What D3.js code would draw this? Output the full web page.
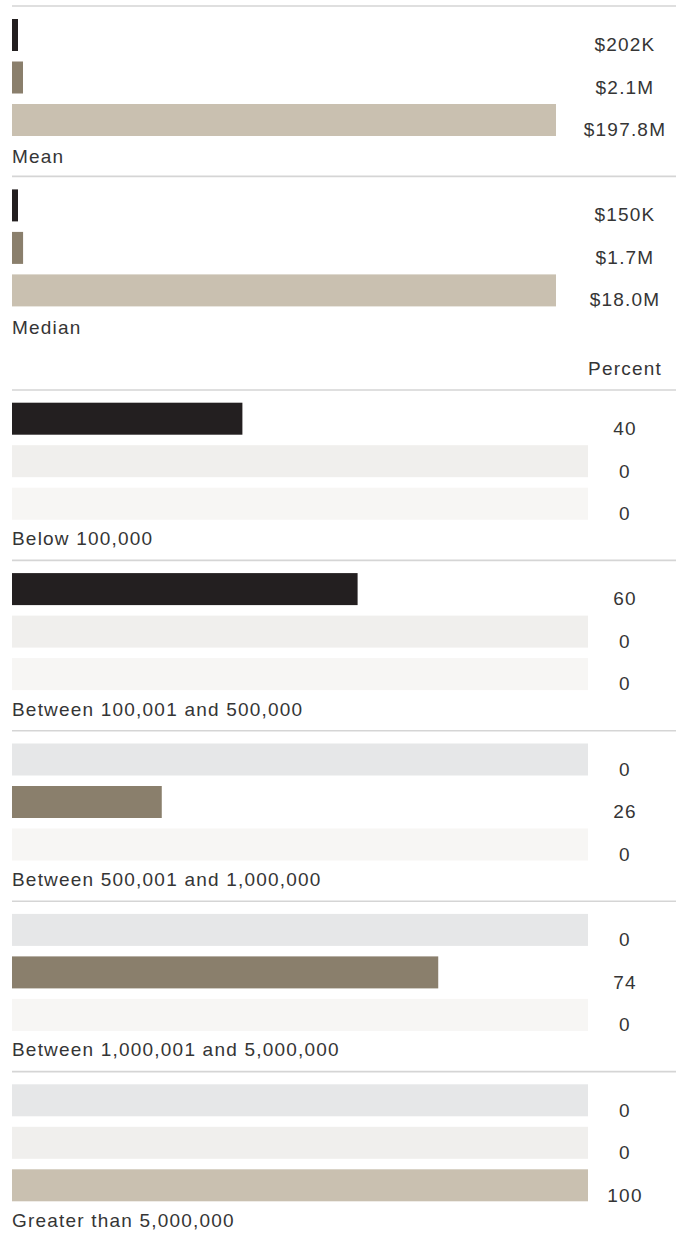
<!DOCTYPE html>
<html>
<head>
<meta charset="utf-8">
<script src="https://cdn.jsdelivr.net/npm/d3@7/dist/d3.min.js"></script>
<style>
  html, body { margin: 0; padding: 0; background: #fff; }
  svg { display: block; }
  text { font-family: "Liberation Sans", Arial, sans-serif; font-size: 19px; fill: #353535; letter-spacing: 1.2px; }
</style>
</head>
<body>
<div id="chart"></div>
<script>
// ---- data ----
const seriesKeys = ["seriesA", "seriesB", "seriesC"];
const statCategories = ["Mean", "Median"];
const meanValues = [0.202, 2.1, 197.8];      // $ millions
const medianValues = [0.150, 1.7, 18.0];     // $ millions
const bucketCategories = [
  "Below 100,000",
  "Between 100,001 and 500,000",
  "Between 500,001 and 1,000,000",
  "Between 1,000,001 and 5,000,000",
  "Greater than 5,000,000"
];
const seriesAPercent = [40, 60, 0, 0, 0];
const seriesBPercent = [0, 0, 26, 74, 0];
const seriesCPercent = [0, 0, 0, 0, 100];
const percentHeader = "Percent";

// ---- layout ----
const W = 687, H = 1237;
const left = 12, ruleRight = 676, valueX = 625;
const groupH = 170.4;
const barH = 32, barStep = 42.5;
const colors = ["#231f20", "#8a7f6c", "#c9c0b0"];
const zeroColors = ["#e6e7e8", "#f0efed", "#f7f6f4"];
const minW = [6, 11, 0];

const svg = d3.select("#chart").append("svg").attr("width", W).attr("height", H);

const band = d3.scaleBand().domain(seriesKeys)
  .range([13, 13 + 2 * barStep + barH])
  .paddingInner((barStep - barH) / barStep).paddingOuter(0);

function fmtMoney(v) {
  return v < 1 ? "$" + d3.format(".0f")(v * 1000) + "K" : "$" + d3.format(".1f")(v) + "M";
}

// ---- top section: mean / median ----
const statData = [meanValues, medianValues];
const topY = d3.scaleBand().domain(statCategories).range([6, 6 + groupH * 2]).padding(0);

statCategories.forEach((cat, gi) => {
  const vals = statData[gi];
  const x = d3.scalePow().exponent(1.65).domain([0, d3.max(vals)]).range([0, 544]);
  const g = svg.append("g").attr("transform", `translate(0,${topY(cat)})`);
  g.append("line").attr("x1", left).attr("x2", ruleRight).attr("y1", 0).attr("y2", 0)
    .attr("stroke", "#d5d5d5").attr("stroke-width", 1.6);
  g.selectAll("rect").data(vals).join("rect")
    .attr("x", left)
    .attr("y", (d, i) => band(seriesKeys[i]))
    .attr("width", (d, i) => Math.max(minW[i], x(d)))
    .attr("height", band.bandwidth())
    .attr("fill", (d, i) => colors[i]);
  g.selectAll("text.val").data(vals).join("text").attr("class", "val")
    .attr("x", valueX).attr("y", (d, i) => band(seriesKeys[i]) + band.bandwidth())
    .attr("text-anchor", "middle").text(d => fmtMoney(d));
  g.append("text").attr("x", left).attr("y", 157.3).text(cat);
});

// ---- percent header ----
svg.append("text").attr("x", valueX).attr("y", 375).attr("text-anchor", "middle").text(percentHeader);

// ---- percent section ----
const pctSeries = [seriesAPercent, seriesBPercent, seriesCPercent];
const px = d3.scaleLinear().domain([0, 100]).range([0, 576]);
const botY = d3.scaleBand().domain(bucketCategories).range([390, 390 + groupH * 5]).padding(0);

bucketCategories.forEach((cat, ci) => {
  const vals = pctSeries.map(s => s[ci]);
  const g = svg.append("g").attr("transform", `translate(0,${botY(cat)})`);
  g.append("line").attr("x1", left).attr("x2", ruleRight).attr("y1", 0).attr("y2", 0)
    .attr("stroke", "#d5d5d5").attr("stroke-width", 1.6);
  g.selectAll("rect").data(vals).join("rect")
    .attr("x", left)
    .attr("y", (d, i) => band(seriesKeys[i]) - 0.3)
    .attr("width", d => d === 0 ? px(100) : px(d))
    .attr("height", band.bandwidth())
    .attr("fill", (d, i) => d === 0 ? zeroColors[i] : colors[i]);
  g.selectAll("text.val").data(vals).join("text").attr("class", "val")
    .attr("x", valueX).attr("y", (d, i) => band(seriesKeys[i]) + band.bandwidth())
    .attr("text-anchor", "middle").text(d => d);
  g.append("text").attr("x", left).attr("y", 155.3).text(cat);
});
</script>
</body>
</html>
